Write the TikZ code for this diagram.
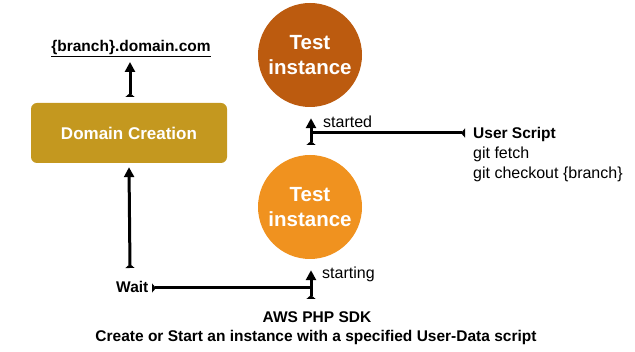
\documentclass[tikz,border=0pt]{standalone}
\usepackage{fontspec}
\setmainfont{Liberation Sans}
\usetikzlibrary{arrows.meta}
\definecolor{darkor}{HTML}{BC5B0F}
\definecolor{lightor}{HTML}{F0921F}
\definecolor{gold}{HTML}{C4981F}
\begin{document}
\begin{tikzpicture}[x=1pt,y=-1pt,
 conn/.style={line width=3pt, {Triangle[reversed,length=4pt,width=9pt]}-{Triangle[length=10pt,width=10pt]}},
 plainline/.style={line width=3pt, {Triangle[reversed,length=4pt,width=9pt]}-},
 circ/.style={circle, minimum size=104pt, inner sep=0pt, text=white, font=\fontsize{20.5}{25}\selectfont\bfseries, align=center},
 lbl/.style={font=\fontsize{15.5}{19}\selectfont\bfseries, inner sep=0pt},
 txt/.style={font=\fontsize{16}{20}\selectfont, inner sep=0pt},
]
\useasboundingbox (0,0) rectangle (635,352);
\node[circ, fill=darkor] (t1) at (310,55) {Test\\instance};
\node[circ, fill=lightor] (t2) at (310,207) {Test\\instance};
\node[fill=gold, rounded corners=6pt, minimum width=196pt, minimum height=60pt, text=white,
      font=\fontsize{17}{20}\selectfont\bfseries] (dc) at (129,133) {Domain Creation};
\node[lbl, anchor=base] (url) at (131,52) {\underline{\{branch\}.domain.com}};
\node[lbl, anchor=base west] (wait) at (116,293) {Wait};
\node[lbl, anchor=base] (aws) at (317,323) {AWS PHP SDK};
\node[lbl, anchor=base] (create) at (316,342) {Create or Start an instance with a specified User-Data script};
\node[lbl, anchor=base west] (us) at (473,139) {User Script};
\node[txt, anchor=base west] (gf) at (473,159) {git fetch};
\node[txt, anchor=base west] (gc) at (473,179) {git checkout \{branch\}};
\node[txt, anchor=base west] (started) at (323,128) {started};
\node[txt, anchor=base west] (starting) at (322,279) {starting};
\coordinate (a0) at (130,97);
\coordinate (a1) at (130,62);
\draw[conn] (a0) -- (a1);
\coordinate (wv) at (130,268);
\draw[conn] (wv) -- ([yshift=-4pt]dc.south);
\coordinate (jn1) at (311,288);
\coordinate (w0) at (152,288);
\draw[plainline] (w0) -- (jn1);
\coordinate (s0) at (311,299);
\draw[conn] (s0) -- ([xshift=1pt,yshift=-11pt]t2.south);
\coordinate (jn2) at (311,133);
\draw[plainline] ([xshift=-8pt]us.west |- jn2) -- (jn2);
\coordinate (s1) at (311,145);
\draw[conn] (s1) -- ([xshift=1pt,yshift=-11pt]t1.south);
\end{tikzpicture}
\end{document}
